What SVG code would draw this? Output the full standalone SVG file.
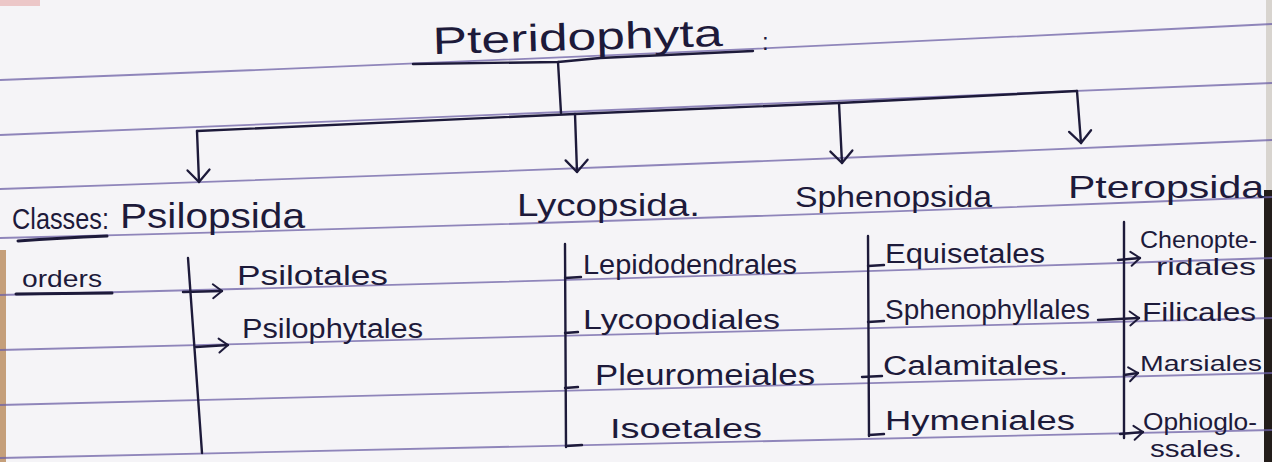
<svg xmlns="http://www.w3.org/2000/svg" width="1272" height="462" viewBox="0 0 1272 462">
  <defs>
    <style>
      .rule { fill: none; stroke: #6c60a6; stroke-width: 1.8; opacity: 0.75; }
      .ink { fill: none; stroke: #1d1a3a; stroke-width: 2.4; stroke-linecap: round; stroke-linejoin: round; }
      .t { font-family: "Liberation Sans", "DejaVu Sans", sans-serif; fill: #1d1a3a; }
      .title { font-size: 38px; }
      .cls { font-size: 32px; }
      .ord { font-size: 27px; }
      .sm { font-size: 24px; }
    </style>
    <marker id="headBig" viewBox="0 0 12 22" refX="12" refY="11" markerWidth="12" markerHeight="22" markerUnits="userSpaceOnUse" orient="auto" overflow="visible">
      <path d="M0,0 L12,11 L0,22" fill="none" stroke="#1d1a3a" stroke-width="2.3" stroke-linecap="round" stroke-linejoin="round"/>
    </marker>
    <marker id="headSm" viewBox="0 0 9 14" refX="9" refY="7" markerWidth="9" markerHeight="14" markerUnits="userSpaceOnUse" orient="auto" overflow="visible">
      <path d="M0,0 L9,7 L0,14" fill="none" stroke="#1d1a3a" stroke-width="2" stroke-linecap="round" stroke-linejoin="round"/>
    </marker>
  </defs>

  <!-- paper -->
  <rect x="0" y="0" width="1272" height="462" fill="#f5f4f7"/>
  <rect x="0" y="250" width="6" height="212" fill="#b07a45" opacity="0.7"/>
  <rect x="0" y="0" width="40" height="6" fill="#e6a9a9" opacity="0.6"/>
  <rect x="1264" y="190" width="8" height="272" fill="#231d1a"/>
  <rect x="1266" y="0" width="6" height="190" fill="#d8d4cf"/>

  <g id="ruled-lines">
    <path class="rule" d="M0,80 Q636,56 1272,24"/>
    <path class="rule" d="M0,135 Q636,111 1272,83"/>
    <path class="rule" d="M0,189 Q636,167.5 1272,140"/>
    <path class="rule" d="M0,238 Q636,222.5 1272,197"/>
    <path class="rule" d="M0,295 Q636,279.5 1272,258"/>
    <path class="rule" d="M0,350 Q636,334 1272,318"/>
    <path class="rule" d="M0,405 Q636,391 1272,373"/>
    <path class="rule" d="M0,458 Q636,444 1272,430"/>
  </g>

  <g id="connectors">
    <!-- title stem and main bracket -->
    <path class="ink" d="M558,62 L561,113"/>
    <path class="ink" d="M197,131 L575,114 L839,103 L1077,91"/>
    <!-- drops to classes -->
    <path class="ink" d="M197,131 L199,182" marker-end="url(#headBig)"/>
    <path class="ink" d="M575,114 L577,172" marker-end="url(#headBig)"/>
    <path class="ink" d="M839,103 L842,163" marker-end="url(#headBig)"/>
    <path class="ink" d="M1077,91 L1081,143" marker-end="url(#headBig)"/>
    <!-- Psilopsida column -->
    <path class="ink" d="M188,258 L202,453"/>
    <path class="ink" d="M183,292 L222,291" marker-end="url(#headSm)"/>
    <path class="ink" d="M196,347 L228,345" marker-end="url(#headSm)"/>
    <!-- Lycopsida column -->
    <path class="ink" d="M565,244 L566,447"/>
    <path class="ink" d="M565,278 L581,277"/>
    <path class="ink" d="M565,333 L578,332"/>
    <path class="ink" d="M565,388 L578,387"/>
    <path class="ink" d="M566,446 L582,445"/>
    <!-- Sphenopsida column -->
    <path class="ink" d="M868,236 L869,436"/>
    <path class="ink" d="M868,266 L884,265"/>
    <path class="ink" d="M868,322 L884,321"/>
    <path class="ink" d="M862,377 L882,376"/>
    <path class="ink" d="M869,435 L884,434"/>
    <!-- Pteropsida column -->
    <path class="ink" d="M1124,222 L1124,438"/>
    <path class="ink" d="M1118,260 L1140,258" marker-end="url(#headSm)"/>
    <path class="ink" d="M1098,320 L1139,318" marker-end="url(#headSm)"/>
    <path class="ink" d="M1124,375 L1138,373" marker-end="url(#headSm)"/>
    <path class="ink" d="M1120,434 L1143,432" marker-end="url(#headSm)"/>
  </g>

  <g id="title">
    <text class="t title" x="433" y="54" textLength="290" lengthAdjust="spacingAndGlyphs" transform="rotate(-1.6 433 54)">Pteridophyta</text>
    <text class="t sm" x="762" y="50">:</text>
    <path class="ink" d="M413,64 L558,62 L600,58 L753,51"/>
  </g>

  <g id="label-classes">
    <text class="t" style="font-size:30px" x="12" y="229" textLength="97" lengthAdjust="spacingAndGlyphs">Classes:</text>
    <path class="ink" d="M18,241 Q60,238 107,236" style="stroke-width:3"/>
  </g>
  <g id="class-psilopsida">
    <text class="t" style="font-size:35px" x="120" y="228" textLength="185" lengthAdjust="spacingAndGlyphs">Psilopsida</text>
  </g>
  <g id="class-lycopsida">
    <text class="t cls" x="517" y="216" textLength="183" lengthAdjust="spacingAndGlyphs">Lycopsida.</text>
  </g>
  <g id="class-sphenopsida">
    <text class="t" style="font-size:30px" x="795" y="207" textLength="197" lengthAdjust="spacingAndGlyphs">Sphenopsida</text>
  </g>
  <g id="class-pteropsida">
    <text class="t cls" x="1068" y="198" textLength="196" lengthAdjust="spacingAndGlyphs">Pteropsida</text>
  </g>

  <g id="label-orders">
    <text class="t sm" x="22" y="287" textLength="80" lengthAdjust="spacingAndGlyphs">orders</text>
    <path class="ink" d="M16,294 L112,293" style="stroke-width:3"/>
  </g>

  <g id="order-psilotales">
    <text class="t ord" x="237" y="285" textLength="151" lengthAdjust="spacingAndGlyphs">Psilotales</text>
  </g>
  <g id="order-psilophytales">
    <text class="t ord" x="242" y="338" textLength="181" lengthAdjust="spacingAndGlyphs">Psilophytales</text>
  </g>

  <g id="order-lepidodendrales">
    <text class="t ord" x="583" y="274" textLength="214" lengthAdjust="spacingAndGlyphs">Lepidodendrales</text>
  </g>
  <g id="order-lycopodiales">
    <text class="t ord" x="583" y="329" textLength="197" lengthAdjust="spacingAndGlyphs">Lycopodiales</text>
  </g>
  <g id="order-pleuromeiales">
    <text class="t" style="font-size:30px" x="595" y="385" textLength="220" lengthAdjust="spacingAndGlyphs">Pleuromeiales</text>
  </g>
  <g id="order-isoetales">
    <text class="t ord" x="610" y="438" textLength="152" lengthAdjust="spacingAndGlyphs">Isoetales</text>
  </g>

  <g id="order-equisetales">
    <text class="t ord" x="885" y="263" textLength="160" lengthAdjust="spacingAndGlyphs">Equisetales</text>
  </g>
  <g id="order-sphenophyllales">
    <text class="t ord" x="885" y="319" textLength="205" lengthAdjust="spacingAndGlyphs">Sphenophyllales</text>
  </g>
  <g id="order-calamitales">
    <text class="t ord" x="883" y="375" textLength="185" lengthAdjust="spacingAndGlyphs">Calamitales.</text>
  </g>
  <g id="order-hymeniales">
    <text class="t ord" x="885" y="430" textLength="190" lengthAdjust="spacingAndGlyphs">Hymeniales</text>
  </g>

  <g id="order-chenopteridales">
    <text class="t sm" x="1140" y="248" textLength="117" lengthAdjust="spacingAndGlyphs">Chenopte-</text>
    <text class="t sm" x="1156" y="275" textLength="100" lengthAdjust="spacingAndGlyphs">ridales</text>
  </g>
  <g id="order-filicales">
    <text class="t" style="font-size:26px" x="1142" y="321" textLength="114" lengthAdjust="spacingAndGlyphs">Filicales</text>
  </g>
  <g id="order-marsiales">
    <text class="t" style="font-size:22px" x="1140" y="371" textLength="122" lengthAdjust="spacingAndGlyphs">Marsiales</text>
  </g>
  <g id="order-ophioglossales">
    <text class="t sm" x="1143" y="430" textLength="114" lengthAdjust="spacingAndGlyphs">Ophioglo-</text>
    <text class="t sm" x="1150" y="457" textLength="92" lengthAdjust="spacingAndGlyphs">ssales.</text>
  </g>
</svg>
